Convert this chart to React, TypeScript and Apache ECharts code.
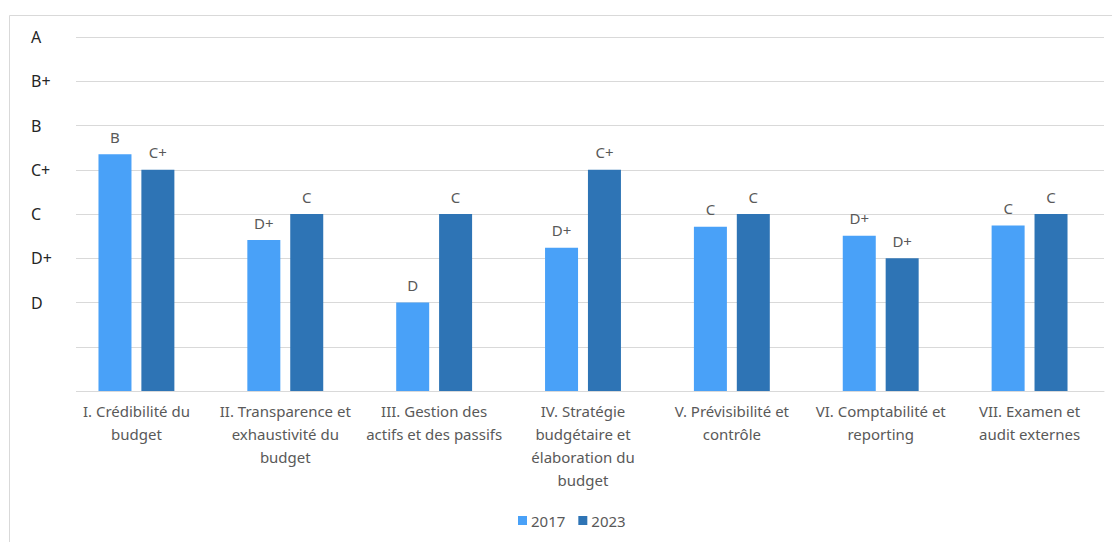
import React, { useEffect, useRef } from "react";
import * as echarts from "echarts";

// PEFA pillar scores, numeric scale 0..8 (D = 2 ... A = 8)
const categories = [
  "I. Crédibilité du\nbudget",
  "II. Transparence et\nexhaustivité du\nbudget",
  "III. Gestion des\nactifs et des passifs",
  "IV. Stratégie\nbudgétaire et\nélaboration du\nbudget",
  "V. Prévisibilité et\ncontrôle",
  "VI. Comptabilité et\nreporting",
  "VII. Examen et\naudit externes",
];
const values2017 = [5.35, 3.41, 2, 3.24, 3.71, 3.51, 3.74];
const values2023 = [5, 4, 4, 5, 4, 3, 4];
const grades2017 = ["B", "D+", "D", "D+", "C", "D+", "C"];
const grades2023 = ["C+", "C", "C", "C+", "C", "D+", "C"];
const scaleLabels = ["", "", "D", "D+", "C", "C+", "B", "B+", "A"];

const FONT = "'Noto Sans', 'Open Sans', sans-serif";

export default function App() {
  const ref = useRef<HTMLDivElement>(null);

  useEffect(() => {
    if (!ref.current) return;
    const chart = echarts.init(ref.current, null, { renderer: "svg" });
    const barLabel = (grades: string[]) => ({
      show: true,
      position: "top" as const,
      distance: 10,
      fontFamily: FONT,
      fontSize: 15,
      color: "#595959",
      formatter: (p: any) => grades[p.dataIndex],
    });
    chart.setOption({
      animation: false,
      backgroundColor: "#ffffff",
      textStyle: { fontFamily: FONT },
      grid: { left: 62, right: 8, top: 37, bottom: 151 },
      legend: {
        left: 513,
        top: 508,
        itemWidth: 9,
        itemHeight: 9,
        itemGap: 13,
        icon: "rect",
        textStyle: { fontFamily: FONT, fontSize: 15, color: "#595959", padding: [0, 0, 0, -1] },
        data: ["2017", "2023"],
      },
      xAxis: {
        type: "category",
        data: categories,
        axisLine: { show: true, lineStyle: { color: "#D9D9D9", width: 1 } },
        axisTick: { show: false },
        axisLabel: {
          interval: 0,
          margin: 8,
          fontFamily: FONT,
          fontSize: 15,
          lineHeight: 23,
          color: "#595959",
          align: "center",
        },
      },
      yAxis: {
        type: "value",
        min: 0,
        max: 8,
        interval: 1,
        axisLine: { show: false },
        axisTick: { show: false },
        splitLine: { lineStyle: { color: "#D9D9D9", width: 1 } },
        axisLabel: {
          align: "left",
          margin: 31,
          fontFamily: FONT,
          fontSize: 16,
          color: "#262626",
          padding: [5, 0, 0, 0],
          formatter: (v: number) => scaleLabels[Math.round(v)] ?? "",
        },
      },
      series: [
        {
          name: "2017",
          type: "bar",
          data: values2017,
          barWidth: 33,
          barGap: "30%",
          itemStyle: { color: "#49A1F8" },
          label: barLabel(grades2017),
        },
        {
          name: "2023",
          type: "bar",
          data: values2023,
          barWidth: 33,
          barGap: "30%",
          itemStyle: { color: "#2E74B5" },
          label: barLabel(grades2023),
        },
      ],
      graphic: [
        {
          type: "rect",
          z: 100,
          shape: { x: 58, y: 28, width: 18, height: 366 },
          style: { fill: "#ffffff" },
        },
        {
          type: "rect",
          z: 100,
          shape: { x: 9.5, y: 15.5, width: 1200, height: 700 },
          style: { fill: "none", stroke: "#D9D9D9", lineWidth: 1 },
        },
      ],
    });
    return () => chart.dispose();
  }, []);

  return (
    <div
      ref={ref}
      style={{ position: "fixed", left: 0, top: 0, width: 1112, height: 542 }}
    />
  );
}
